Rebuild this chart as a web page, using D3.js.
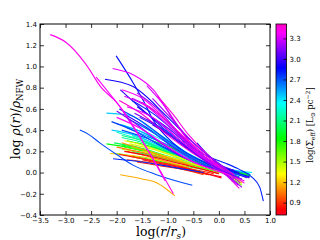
<!DOCTYPE html>
<html>
<head>
<meta charset="utf-8">
<script src="https://cdn.jsdelivr.net/npm/d3@7"></script>
<style>
  body { margin: 0; background: #fff; }
  .tick text { font-family: "DejaVu Sans", sans-serif; font-size: 7px; fill: #000; }
  .tick line { stroke: #000; stroke-width: 0.8; }
</style>
</head>
<body>
<script>
// tick values
const xTicks = [-3.5, -3.0, -2.5, -2.0, -1.5, -1.0, -0.5, 0.0, 0.5, 1.0]
const yTicks = [-0.4, -0.2, 0.0, 0.2, 0.4, 0.6, 0.8, 1.0, 1.2, 1.4]
const cbarTicks = [0.9, 1.2, 1.5, 1.8, 2.1, 2.4, 2.7, 3.0, 3.3]
const cbarRange = [0.72, 3.51]

// gist_rainbow colormap stops
const cmapPos = [0, 0.03, 0.215, 0.4, 0.586, 0.77, 0.954, 1]
const cmapCol = ['#ff0029', '#ff0000', '#ffff00', '#00ff00', '#00ffff', '#0000ff', '#ff00ff', '#ff00bf']

// log(Sigma_eff) of each profile (same order as profiles)
const sigmaEff = [
  // cyan
  2.45, 2.35, 2.25, 2.5, 2.2, 2.55, 2.4, 2.3, 2.15, 2.6, 2.45,
  // green
  1.9, 2.0, 1.8, 2.1, 1.75, 1.95, 2.1, 1.85, 2.05, 1.7, 1.9,
  // yellow
  1.3, 1.45, 1.55, 1.65, 1.4, 1.25,
  // orange
  1.15, 1.1, 1.0, 1.2, 1.05,
  // red
  0.8, 0.9, 0.75, 0.95, 0.85, 0.78,
  // blue
  2.85, 2.9, 2.95, 2.72, 2.8, 2.85, 2.8, 2.75, 3.0, 2.9, 2.65, 3.05, 2.7, 2.8, 2.9, 2.75, 3.0, 2.7,
  // magenta
  3.42, 3.38, 3.35, 3.3, 3.4, 3.18, 3.48, 3.15, 3.35, 3.45, 3.25, 3.3, 3.45, 3.2, 3.1, 3.4
]

// profiles: [log(r/rs), log(rho/rhoNFW)]
const profiles = [
  // cyan
  [[-2.2, 0.56], [-1.74, 0.54], [-1.3, 0.40], [-0.8, 0.22], [-0.2, 0.08], [0.6, -0.03]],
  [[-1.9, 0.45], [-1.4, 0.36], [-0.9, 0.22], [-0.3, 0.07], [0.6, -0.02]],
  [[-2.0, 0.38], [-1.5, 0.30], [-1.0, 0.18], [-0.4, 0.06], [0.55, -0.03]],
  [[-1.8, 0.42], [-1.2, 0.30], [-0.6, 0.15], [0.0, 0.04], [0.6, -0.01]],
  [[-1.7, 0.35], [-1.2, 0.25], [-0.6, 0.12], [0.1, 0.03], [0.62, -0.03]],
  [[-2.0, 0.46], [-1.6, 0.40], [-1.0, 0.25], [-0.5, 0.12], [0.3, 0.01]],
  [[-1.5, 0.40], [-1.0, 0.28], [-0.5, 0.14], [0.2, 0.03], [0.65, 0.0]],
  [[-1.6, 0.46], [-1.1, 0.34], [-0.6, 0.18], [0.0, 0.05], [0.6, -0.02]],
  [[-1.9, 0.33], [-1.4, 0.27], [-0.9, 0.17], [-0.3, 0.06], [0.5, -0.02]],
  [[-1.4, 0.34], [-0.9, 0.24], [-0.4, 0.12], [0.2, 0.03], [0.62, -0.02]],
  [[-2.1, 0.40], [-1.7, 0.36], [-1.2, 0.26], [-0.6, 0.12], [0.1, 0.03]],

  // green
  [[-1.9, 0.26], [-1.5, 0.22], [-1.0, 0.14], [-0.4, 0.06], [0.3, 0.0], [0.6, -0.02]],
  [[-2.05, 0.28], [-1.6, 0.24], [-1.1, 0.17], [-0.5, 0.08], [0.2, 0.02]],
  [[-1.8, 0.30], [-1.3, 0.24], [-0.8, 0.15], [-0.2, 0.05], [0.55, -0.02]],
  [[-1.7, 0.20], [-1.2, 0.15], [-0.6, 0.08], [0.1, 0.0], [0.6, -0.04]],
  [[-2.0, 0.18], [-1.5, 0.14], [-1.0, 0.09], [-0.3, 0.03]],
  [[-1.6, 0.28], [-1.1, 0.21], [-0.5, 0.11], [0.2, 0.02], [0.6, -0.02]],
  [[-1.9, 0.35], [-1.5, 0.30], [-1.0, 0.20], [-0.4, 0.09], [0.4, 0.0]],
  [[-2.2, 0.27], [-1.8, 0.24], [-1.3, 0.18], [-0.7, 0.10], [0.0, 0.03]],
  [[-1.5, 0.26], [-1.0, 0.19], [-0.5, 0.10], [0.1, 0.02], [0.58, -0.03]],
  [[-1.85, 0.24], [-1.4, 0.20], [-0.9, 0.13], [-0.3, 0.05], [0.4, -0.02]],
  [[-1.3, 0.30], [-0.8, 0.21], [-0.3, 0.10], [0.3, 0.01], [0.6, -0.03]],

  // yellow
  [[-1.85, 0.30], [-1.5, 0.26], [-1.0, 0.18], [-0.5, 0.10], [0.0, 0.03], [0.45, -0.10]],
  [[-1.9, 0.22], [-1.4, 0.18], [-0.9, 0.12], [-0.3, 0.05], [0.4, -0.05]],
  [[-1.7, 0.24], [-1.2, 0.18], [-0.7, 0.10], [0.0, 0.02], [0.45, -0.12]],
  [[-1.6, 0.18], [-1.1, 0.13], [-0.5, 0.06], [0.2, -0.02]],
  [[-1.75, 0.27], [-1.3, 0.22], [-0.8, 0.14], [-0.2, 0.05], [0.42, -0.08]],
  [[-1.5, 0.20], [-1.0, 0.15], [-0.5, 0.08], [0.1, 0.0], [0.45, -0.10]],

  // orange
  [[-1.93, -0.02], [-1.5, -0.06], [-1.2, -0.10], [-0.86, -0.22]],
  [[-1.9, 0.28], [-1.5, 0.22], [-1.0, 0.14], [-0.5, 0.06], [0.0, -0.01]],
  [[-1.8, 0.20], [-1.3, 0.14], [-0.8, 0.07], [-0.2, -0.02]],
  [[-2.13, 0.18], [-1.7, 0.16], [-1.2, 0.12], [-0.6, 0.05]],
  [[-2.0, 0.24], [-1.6, 0.20], [-1.1, 0.14], [-0.6, 0.07]],

  // red
  [[-1.95, 0.17], [-1.5, 0.13], [-1.0, 0.08], [-0.5, 0.02], [0.05, -0.04]],
  [[-1.7, 0.15], [-1.2, 0.10], [-0.7, 0.05], [-0.1, -0.01]],
  [[-1.5, 0.12], [-1.0, 0.07], [-0.5, 0.02], [0.05, -0.05]],
  [[-1.8, 0.12], [-1.3, 0.09], [-0.8, 0.04], [-0.3, -0.02]],
  [[-1.6, 0.10], [-1.1, 0.06], [-0.6, 0.02], [-0.2, -0.02]],
  [[-1.85, 0.20], [-1.4, 0.16], [-0.9, 0.10], [-0.4, 0.04], [0.0, -0.01]],

  // blue
  [[-2.01, 1.10], [-1.67, 0.84], [-1.48, 0.68], [-1.28, 0.49], [-0.9, 0.28], [-0.3, 0.10], [0.3, -0.02]],
  [[-2.23, 0.88], [-1.68, 0.81], [-1.02, 0.53], [-0.5, 0.28], [0.1, 0.05]],
  [[-1.93, 0.78], [-1.35, 0.53], [-0.8, 0.30], [-0.2, 0.10], [0.4, 0.0]],
  [[-2.72, 0.40], [-2.55, 0.36], [-2.33, 0.28], [-2.0, 0.17], [-1.68, 0.07], [-1.22, -0.02], [-0.52, -0.12]],
  [[-2.07, 0.13], [-1.5, 0.10], [-0.9, 0.05], [-0.3, 0.0]],
  [[-0.43, 0.28], [-0.2, 0.16], [0.0, 0.07], [0.2, 0.01]],
  [[-0.7, 0.30], [-0.2, 0.15], [0.12, 0.09], [0.4, 0.03], [0.64, -0.04], [0.8, -0.14], [0.87, -0.27]],
  [[-1.95, 0.60], [-1.5, 0.48], [-1.0, 0.30], [-0.4, 0.12], [0.3, 0.02]],
  [[-1.85, 0.55], [-1.4, 0.42], [-0.9, 0.24], [-0.3, 0.08], [0.5, -0.03]],
  [[-1.6, 0.62], [-1.2, 0.48], [-0.7, 0.28], [0.0, 0.06], [0.55, -0.05]],
  [[-1.75, 0.50], [-1.3, 0.38], [-0.8, 0.22], [-0.2, 0.06], [0.4, -0.04]],
  [[-1.5, 0.58], [-1.0, 0.42], [-0.5, 0.22], [0.1, 0.04], [0.6, -0.05]],
  [[-1.4, 0.50], [-0.9, 0.35], [-0.4, 0.17], [0.2, 0.02]],
  [[-1.7, 0.68], [-1.3, 0.56], [-0.8, 0.36], [-0.3, 0.14], [0.35, 0.0]],
  [[-1.55, 0.52], [-1.1, 0.40], [-0.6, 0.22], [0.0, 0.06], [0.6, -0.04]],
  [[-2.1, 0.48], [-1.6, 0.38], [-1.1, 0.24], [-0.5, 0.10], [0.3, 0.0]],
  [[-1.3, 0.45], [-0.8, 0.30], [-0.3, 0.14], [0.3, 0.02]],
  [[-1.9, 0.40], [-1.4, 0.32], [-0.9, 0.20], [-0.3, 0.07], [0.5, -0.03]],

  // magenta
  [[-3.3, 1.30], [-3.0, 1.23], [-2.6, 1.02], [-2.3, 0.80], [-2.0, 0.66], [-1.8, 0.52], [-1.4, 0.22], [-1.2, 0.06], [-0.89, -0.20]],
  [[-2.4, 0.90], [-2.1, 0.72], [-1.9, 0.60], [-1.65, 0.42], [-1.4, 0.22], [-1.05, -0.08]],
  [[-2.08, 0.98], [-1.67, 0.92], [-1.28, 0.78], [-0.83, 0.45], [-0.4, 0.20], [0.05, 0.04]],
  [[-1.41, 0.82], [-1.1, 0.65], [-0.77, 0.42], [-0.4, 0.18], [0.2, -0.04]],
  [[-1.9, 0.78], [-1.5, 0.70], [-1.0, 0.48], [-0.5, 0.22], [0.0, 0.04], [0.4, -0.15]],
  [[-1.6, 0.75], [-1.2, 0.60], [-0.8, 0.38], [-0.3, 0.12], [0.1, 0.0], [0.45, -0.14]],
  [[-1.95, 0.68], [-1.5, 0.55], [-1.0, 0.35], [-0.5, 0.18], [0.35, -0.05]],
  [[-2.0, 0.58], [-1.6, 0.45], [-1.2, 0.30], [-0.6, 0.12], [0.2, 0.0]],
  [[-1.8, 0.62], [-1.3, 0.52], [-0.8, 0.32], [-0.2, 0.10], [0.5, -0.08]],
  [[-1.2, 0.72], [-0.9, 0.55], [-0.6, 0.36], [-0.2, 0.16], [0.3, -0.02]],
  [[-1.7, 0.70], [-1.3, 0.60], [-0.9, 0.42], [-0.4, 0.20], [0.38, -0.12]],
  [[-1.85, 0.72], [-1.4, 0.62], [-0.9, 0.40], [-0.4, 0.18], [0.3, -0.06]],
  [[-1.5, 0.66], [-1.1, 0.52], [-0.6, 0.30], [-0.1, 0.10], [0.5, -0.10]],
  [[-1.3, 0.70], [-0.95, 0.52], [-0.5, 0.28], [0.0, 0.08], [0.42, -0.10]],
  [[-1.65, 0.56], [-1.2, 0.44], [-0.7, 0.26], [-0.1, 0.06], [0.45, -0.06]],
  [[-2.0, 0.52], [-1.55, 0.42], [-1.05, 0.26], [-0.5, 0.10], [0.2, -0.02]]
]

const frame = { width: 320, height: 240, left: 40, right: 270, top: 24, bottom: 215 }
const cbar = { x: 276, width: 10.5 }

const svg = d3.select('body').append('svg')
  .attr('width', frame.width)
  .attr('height', frame.height)

const x = d3.scaleLinear().domain([-3.5, 1.0]).range([frame.left, frame.right])
const y = d3.scaleLinear().domain([-0.4, 1.4]).range([frame.bottom, frame.top])
const cy = d3.scaleLinear().domain(cbarRange).range([frame.bottom, frame.top])

const tRange = d3.scaleLinear().domain([0, 1]).range(cbarRange)
const color = d3.scaleLinear()
  .domain(cmapPos.map(p => tRange(p)))
  .range(cmapCol)
  .clamp(true)

// profiles
const line = d3.line()
  .x(d => x(d[0]))
  .y(d => y(d[1]))
  .curve(d3.curveMonotoneX)

svg.append('g')
  .selectAll('path')
  .data(profiles)
  .join('path')
  .attr('d', line)
  .attr('fill', 'none')
  .attr('stroke', (d, i) => color(sigmaEff[i]))
  .attr('stroke-width', 1.1)

// axes, ticks pointing inward on all four sides
const fmt = d3.format('.1f')
const h = frame.bottom - frame.top
const w = frame.right - frame.left

svg.append('g')
  .attr('transform', `translate(0,${frame.bottom})`)
  .call(d3.axisBottom(x).tickValues(xTicks).tickFormat(fmt).tickSize(-4).tickPadding(3))
svg.append('g')
  .attr('transform', `translate(0,${frame.top})`)
  .call(d3.axisTop(x).tickValues(xTicks).tickFormat('').tickSize(-4))
svg.append('g')
  .attr('transform', `translate(${frame.left},0)`)
  .call(d3.axisLeft(y).tickValues(yTicks).tickFormat(fmt).tickSize(-4).tickPadding(3))
svg.append('g')
  .attr('transform', `translate(${frame.right},0)`)
  .call(d3.axisRight(y).tickValues(yTicks).tickFormat('').tickSize(-4))
svg.selectAll('.domain').remove()

svg.append('rect')
  .attr('x', frame.left)
  .attr('y', frame.top)
  .attr('width', w)
  .attr('height', h)
  .attr('fill', 'none')
  .attr('stroke', '#000')
  .attr('stroke-width', 1)

// colorbar
const grad = svg.append('defs').append('linearGradient')
  .attr('id', 'cmap')
  .attr('x1', 0).attr('y1', 1)
  .attr('x2', 0).attr('y2', 0)
grad.selectAll('stop')
  .data(cmapPos)
  .join('stop')
  .attr('offset', d => d)
  .attr('stop-color', (d, i) => cmapCol[i])

svg.append('rect')
  .attr('x', cbar.x)
  .attr('y', frame.top)
  .attr('width', cbar.width)
  .attr('height', h)
  .attr('fill', 'url(#cmap)')
  .attr('stroke', '#000')
  .attr('stroke-width', 0.8)

svg.append('g')
  .attr('transform', `translate(${cbar.x + cbar.width},0)`)
  .call(d3.axisRight(cy).tickValues(cbarTicks).tickFormat(fmt).tickSize(-3).tickPadding(3))
  .select('.domain').remove()

// axis labels
svg.append('text')
  .attr('x', 161)
  .attr('y', 236)
  .attr('text-anchor', 'middle')
  .style('font-family', '"DejaVu Serif", serif')
  .style('font-size', '12.5px')
  .call(t => {
    t.append('tspan').text('log(')
    t.append('tspan').style('font-style', 'italic').text('r')
    t.append('tspan').text('/')
    t.append('tspan').style('font-style', 'italic').text('r')
    t.append('tspan').style('font-style', 'italic').style('font-size', '9px').attr('dy', 3).text('s')
    t.append('tspan').attr('dy', -3).text(')')
  })

svg.append('text')
  .attr('transform', 'translate(20,119) rotate(-90)')
  .attr('text-anchor', 'middle')
  .style('font-family', '"DejaVu Serif", serif')
  .style('font-size', '12.5px')
  .call(t => {
    t.append('tspan').text('log ')
    t.append('tspan').style('font-style', 'italic').text('ρ')
    t.append('tspan').text('(')
    t.append('tspan').style('font-style', 'italic').text('r')
    t.append('tspan').text(')/')
    t.append('tspan').style('font-style', 'italic').text('ρ')
    t.append('tspan').style('font-size', '8.5px').attr('dy', 3).text('NFW')
  })

svg.append('text')
  .attr('transform', 'translate(313,125) rotate(-90)')
  .attr('text-anchor', 'middle')
  .style('font-family', '"DejaVu Serif", serif')
  .style('font-size', '8.5px')
  .call(t => {
    t.append('tspan').text('log(Σ')
    t.append('tspan').style('font-size', '6px').attr('dy', 2).text('eff')
    t.append('tspan').attr('dy', -2).text(') [L')
    t.append('tspan').style('font-size', '6px').attr('dy', 2).text('⊙')
    t.append('tspan').attr('dy', -2).text(' pc')
    t.append('tspan').style('font-size', '6px').attr('dy', -3).text('−2')
    t.append('tspan').attr('dy', 3).text(']')
  })
</script>
</body>
</html>
